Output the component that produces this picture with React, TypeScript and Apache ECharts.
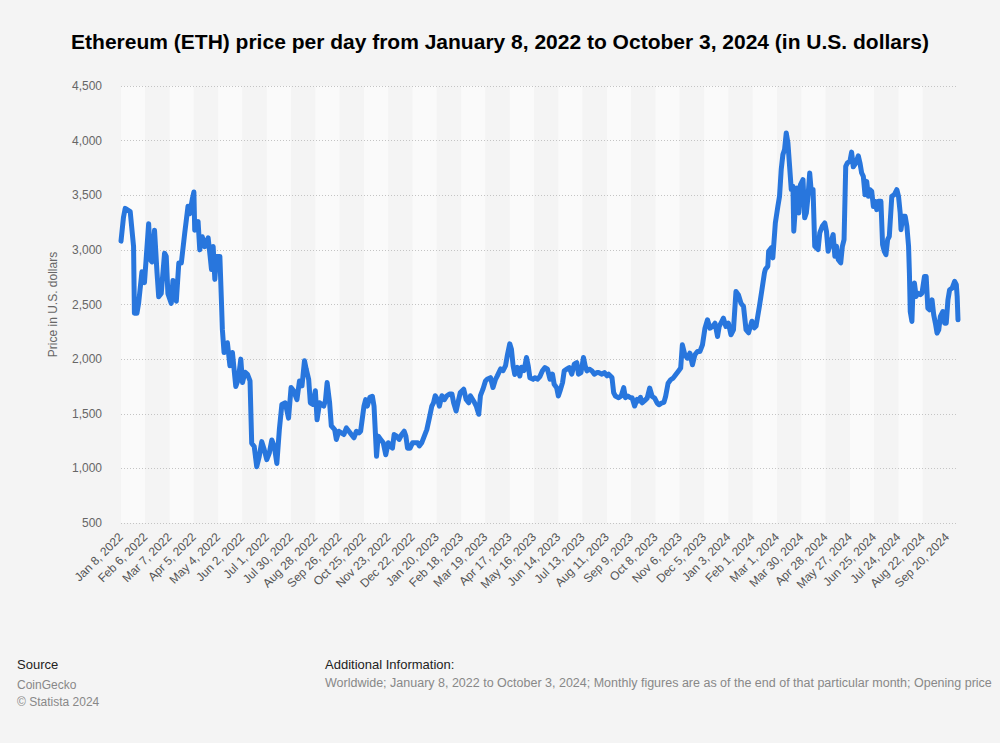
import React, { useEffect, useRef } from "react";
import * as echarts from "echarts";

const MONTHS = ["Jan", "Feb", "Mar", "Apr", "May", "Jun", "Jul", "Aug", "Sep", "Oct", "Nov", "Dec"];
const START_UTC = Date.UTC(2022, 0, 8);
const DAY_COUNT = 1000;

// Daily category labels, January 8, 2022 to October 3, 2024
const categories: string[] = Array.from({ length: DAY_COUNT }, (_, i) => {
  const d = new Date(START_UTC + i * 86400000);
  return `${MONTHS[d.getUTCMonth()]} ${d.getUTCDate()}, ${d.getUTCFullYear()}`;
});

// Day offsets (from Jan 8, 2022) of the points
const dayOffsets: number[] = [
  0, 3, 5, 11, 15, 16, 19, 21, 25, 28, 33, 35, 37, 40, 43, 45, 48, 52, 54, 56, 60, 62, 66, 69, 72, 76, 80, 82, 85, 87,
  88, 92, 94, 97, 100, 104, 106, 108, 110, 112, 114, 118, 120, 121, 123, 127, 130, 133, 137, 140, 143, 145, 148, 151,
  154, 156, 159, 162, 165, 168, 171, 174, 177, 180, 183, 186, 189, 192, 196, 200, 203, 206, 210, 213, 216, 219, 221,
  224, 226, 229, 232, 234, 237, 242, 244, 246, 249, 251, 255, 257, 260, 263, 266, 269, 272, 275, 278, 281, 284, 286,
  290, 292, 294, 297, 300, 302, 304, 305, 307, 310, 313, 316, 319, 321, 324, 326, 329, 332, 335, 338, 340, 342, 345,
  348, 351, 354, 356, 359, 362, 365, 368, 371, 373, 375, 378, 380, 383, 386, 389, 392, 395, 397, 400, 403, 405, 409,
  412, 415, 417, 421, 424, 427, 429, 432, 435, 437, 441, 444, 447, 449, 453, 456, 459, 461, 464, 466, 468, 470, 473,
  476, 478, 481, 484, 486, 488, 492, 494, 497, 500, 503, 506, 509, 512, 515, 517, 520, 522, 524, 527, 529, 532, 535,
  538, 541, 544, 546, 549, 552, 554, 556, 559, 562, 565, 568, 570, 574, 577, 580, 582, 586, 588, 590, 594, 597, 600,
  602, 605, 608, 610, 613, 616, 618, 620, 622, 625, 628, 631, 634, 637, 640, 642, 645, 648, 650, 653, 656, 659, 662,
  665, 668, 670, 673, 676, 679, 682, 685, 688, 691, 694, 697, 700, 703, 706, 709, 712, 714, 717, 719, 722, 725, 728,
  731, 734, 737, 740, 743, 746, 749, 753, 756, 758, 760, 762, 765, 768, 769, 772, 773, 776, 778, 781, 784, 786, 788,
  790, 792, 794, 796, 798, 800, 802, 803, 805, 807, 809, 811, 814, 816, 818, 820, 822, 824, 826, 828, 830, 832, 834,
  837, 840, 842, 844, 847, 850, 852, 854, 856, 859, 861, 863, 865, 867, 870, 872, 874, 877, 880, 882, 884, 886, 888,
  890, 892, 894, 896, 898, 900, 902, 904, 907, 909, 911, 913, 915, 917, 920, 923, 926, 928, 930, 931, 933, 936, 938,
  940, 941, 942, 944, 945, 947, 949, 951, 954, 956, 959, 961, 963, 965, 968, 970, 972, 974, 976, 978, 981, 983, 985,
  987, 989, 992, 995, 997, 998, 999,
];

// Opening price in U.S. dollars at those days
const prices: number[] = [
  3080, 3300, 3380, 3350, 3030, 2420, 2420, 2510, 2800, 2700, 3240, 2910, 2890, 3180, 2790, 2570, 2600, 2970, 2940, 2600,
  2510, 2720, 2530, 2880, 2880, 3150, 3400, 3330, 3460, 3530, 3180, 3260, 3000, 3120, 3030, 3110, 2970, 2820, 3030, 2730,
  2940, 2940, 2500, 2270, 2060, 2150, 1940, 2060, 1750, 1815, 2000, 1785, 1880, 1860, 1800, 1230, 1200, 1015, 1110, 1245,
  1170, 1080, 1140, 1260, 1200, 1045, 1355, 1585, 1600, 1460, 1740, 1710, 1630, 1800, 1755, 1985, 1910, 1815, 1600, 1585,
  1710, 1445, 1600, 1570, 1620, 1785, 1600, 1390, 1355, 1265, 1340, 1325, 1310, 1370, 1340, 1310, 1280, 1340, 1325, 1340,
  1570, 1630, 1570, 1650, 1660, 1570, 1265, 1110, 1295, 1265, 1235, 1125, 1235, 1205, 1185, 1310, 1295, 1265, 1310, 1340,
  1295, 1185, 1185, 1235, 1235, 1235, 1205, 1235, 1295, 1355, 1460, 1570, 1600, 1665, 1630, 1570, 1665, 1630, 1665, 1680,
  1680, 1600, 1525, 1630, 1695, 1725, 1630, 1600, 1665, 1615, 1570, 1495, 1665, 1725, 1800, 1815, 1830, 1740, 1815, 1845,
  1910, 1895, 1940, 2030, 2140, 2090, 1940, 1860, 1925, 1845, 1925, 1895, 2015, 1940, 1830, 1815, 1830, 1816, 1840, 1893,
  1923, 1908, 1816, 1862, 1770, 1739, 1663, 1709, 1785, 1893, 1908, 1923, 1862, 1954, 1969, 1862, 1877, 2015, 1939, 1893,
  1908, 1893, 1862, 1877, 1877, 1862, 1877, 1847, 1862, 1831, 1694, 1663, 1647, 1663, 1739, 1647, 1663, 1647, 1647, 1571,
  1632, 1617, 1650, 1600, 1620, 1643, 1735, 1658, 1643, 1597, 1582, 1597, 1604, 1658, 1780, 1811, 1826, 1857, 1887, 1918,
  2131, 2040, 2009, 2055, 1948, 2040, 2070, 2070, 2131, 2283, 2360, 2283, 2299, 2329, 2207, 2299, 2344, 2375, 2299, 2329,
  2223, 2268, 2619, 2588, 2512, 2482, 2270, 2241, 2347, 2286, 2302, 2393, 2485, 2637, 2790, 2820, 2851, 2988, 3018, 2927,
  3247, 3399, 3491, 3735, 3872, 3918, 4070, 3979, 3765, 3552, 3582, 3171, 3399, 3567, 3338, 3598, 3643, 3293, 3338, 3491,
  3704, 3521, 3552, 3033, 3018, 3003, 3155, 3216, 3247, 3171, 2988, 3064, 3140, 2942, 3033, 2912, 2881, 3033, 3094, 3765,
  3796, 3810, 3895, 3760, 3795, 3860, 3795, 3704, 3673, 3505, 3627, 3490, 3551, 3536, 3398, 3444, 3368, 3444, 3444, 3047,
  2986, 2956, 3093, 3124, 3490, 3505, 3551, 3490, 3337, 3185, 3307, 3307, 3215, 3032, 2788, 2436, 2345, 2574, 2696, 2574,
  2604, 2589, 2604, 2757, 2757, 2467, 2452, 2543, 2406, 2329, 2238, 2268, 2391, 2436, 2329, 2329, 2543, 2635, 2650, 2711,
  2681, 2574, 2360,
];

const Y_MIN = 500;
const Y_MAX = 4500;
const Y_STEP = 500;
const LABEL_EVERY = 29;

const TITLE = "Ethereum (ETH) price per day from January 8, 2022 to October 3, 2024 (in U.S. dollars)";
const Y_NAME = "Price in U.S. dollars";
const SOURCE_LINES = ["CoinGecko", "© Statista 2024"];
const INFO_TEXT =
  "Worldwide; January 8, 2022 to October 3, 2024; Monthly figures are as of the end of that particular month; Opening price";

const FONT = "'Liberation Sans', Arial, Helvetica, sans-serif";

export default function App() {
  const ref = useRef<HTMLDivElement>(null);

  useEffect(() => {
    document.body.style.margin = "0";
    document.body.style.background = "#f4f4f4";
    if (!ref.current) return;
    const chart = echarts.init(ref.current, null, { renderer: "svg" });
    const seriesData = dayOffsets.map((d, i) => [d, prices[i]]);

    chart.setOption({
      animation: false,
      backgroundColor: "#f4f4f4",
      textStyle: { fontFamily: FONT },
      title: {
        text: TITLE,
        left: "center",
        top: 26,
        textStyle: { fontSize: 21, fontWeight: "bold", color: "#000", fontFamily: FONT },
      },
      grid: { left: 121, right: 42, top: 86, bottom: 220, containLabel: false },
      xAxis: {
        type: "category",
        data: categories,
        boundaryGap: false,
        z: 0,
        axisLine: { show: false },
        axisTick: { show: false },
        axisLabel: {
          interval: LABEL_EVERY - 1,
          rotate: 45,
          color: "#555",
          fontSize: 12,
          fontFamily: FONT,
          margin: 12,
        },
        splitLine: { show: false },
        splitArea: {
          show: true,
          interval: LABEL_EVERY - 1,
          areaStyle: { color: ["#fafafa", "#f4f4f4"] },
        },
      },
      yAxis: {
        type: "value",
        min: Y_MIN,
        max: Y_MAX,
        interval: Y_STEP,
        z: 1,
        name: Y_NAME,
        nameLocation: "middle",
        nameGap: 62,
        nameTextStyle: { color: "#666", fontSize: 12, fontFamily: FONT },
        axisLine: { show: false },
        axisTick: { show: false },
        axisLabel: {
          color: "#666",
          fontSize: 12,
          fontFamily: FONT,
          margin: 19,
          formatter: (v: number) => v.toLocaleString("en-US"),
        },
        splitLine: { lineStyle: { type: [1, 2], color: "#c4c4c4", width: 1 } },
      },
      series: [
        {
          type: "line",
          data: seriesData,
          symbol: "none",
          z: 3,
          lineStyle: { color: "#2876dd", width: 5, join: "round", cap: "round" },
          itemStyle: { color: "#2876dd" },
        },
      ],
      graphic: [
        { type: "text", left: 17, top: 658, style: { text: "Source", fontSize: 13, fill: "#222", fontFamily: FONT } },
        {
          type: "text",
          left: 17,
          top: 676,
          style: { text: SOURCE_LINES.join("\n"), fontSize: 12, lineHeight: 17, fill: "#888", fontFamily: FONT },
        },
        {
          type: "text",
          left: 325,
          top: 658,
          style: { text: "Additional Information:", fontSize: 13, fill: "#222", fontFamily: FONT },
        },
        {
          type: "text",
          left: 325,
          top: 676,
          style: { text: INFO_TEXT, fontSize: 12.5, fill: "#888", fontFamily: FONT },
        },
      ],
    });

    return () => chart.dispose();
  }, []);

  return <div ref={ref} style={{ width: 1000, height: 743, background: "#f4f4f4" }} />;
}
